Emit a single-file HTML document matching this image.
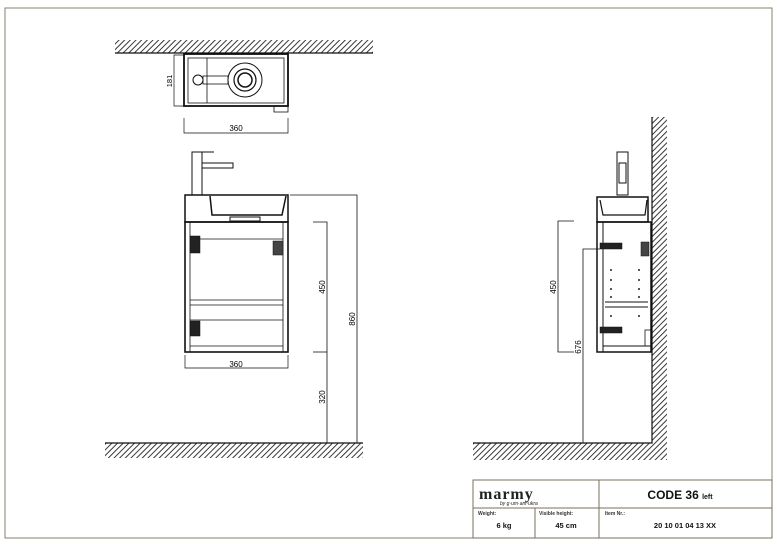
<!DOCTYPE html>
<html><head><style>
html,body{margin:0;padding:0;background:#fff;}
svg{display:block;font-family:"Liberation Sans",sans-serif;}
</style></head><body>
<svg width="777" height="544" viewBox="0 0 777 544" xmlns="http://www.w3.org/2000/svg">
<defs>
<pattern id="h" width="4" height="4" patternUnits="userSpaceOnUse" patternTransform="rotate(45)">
<rect width="4" height="4" fill="#fff"/><line x1="0" y1="0" x2="0" y2="4" stroke="#222" stroke-width="1.8"/>
</pattern>
</defs>
<rect x="5" y="8" width="767" height="530" fill="none" stroke="#8a8070" stroke-width="1"/>

<!-- TOP VIEW -->
<rect x="115" y="40" width="258" height="13" fill="url(#h)"/>
<line x1="115" y1="53" x2="373" y2="53" stroke="#111" stroke-width="1.2"/>
<g fill="none" stroke="#111">
<rect x="184" y="54" width="104" height="52" stroke-width="1.8"/>
<rect x="188" y="58" width="96" height="45" stroke-width="0.8"/>
<line x1="207" y1="58" x2="207" y2="103" stroke-width="0.8"/>
<circle cx="245" cy="80" r="17" stroke-width="1"/>
<circle cx="245" cy="80" r="11" stroke-width="1.2"/>
<circle cx="245" cy="80" r="7" stroke-width="1.5"/>
<circle cx="198" cy="80" r="5" stroke-width="1"/>
<rect x="203" y="76" width="25" height="8" stroke-width="0.8"/>
<rect x="274" y="106" width="14" height="6" stroke-width="0.8"/>
<polyline points="184,55 174,55 174,106 184,106" stroke-width="0.7"/>
<polyline points="184,118 184,133 288,133 288,118" stroke-width="0.7"/>
</g>
<text x="174" y="81" font-size="7.5" transform="rotate(-90 174 81)" text-anchor="middle" dy="-2">181</text>
<text x="236" y="131" font-size="8" text-anchor="middle">360</text>

<!-- FRONT VIEW -->
<g fill="none" stroke="#111">
<polyline points="192,195 192,152 214,152" stroke-width="1"/>
<rect x="192" y="152" width="10" height="43" stroke-width="1"/>
<polyline points="202,163 233,163 233,168 202,168" stroke-width="1"/>
<rect x="185" y="195" width="103" height="27" stroke-width="1.5"/>
<path d="M210,196 L212,215 L282,215 L286,196" stroke-width="1.5"/>
<rect x="230" y="217" width="30" height="4" stroke-width="1"/>
<rect x="185" y="222" width="103" height="130" stroke-width="1.6"/>
<line x1="190" y1="222" x2="190" y2="352" stroke-width="0.8"/>
<line x1="283" y1="222" x2="283" y2="352" stroke-width="0.8"/>
<line x1="190" y1="239" x2="283" y2="239" stroke-width="0.8"/>
<line x1="190" y1="300" x2="283" y2="300" stroke-width="0.8"/>
<line x1="190" y1="305" x2="283" y2="305" stroke-width="0.8"/>
<line x1="190" y1="320" x2="283" y2="320" stroke-width="0.8"/>
<line x1="190" y1="346" x2="283" y2="346" stroke-width="0.8"/>
<rect x="190" y="236" width="10" height="17" fill="#222" stroke-width="0.5"/>
<rect x="273" y="241" width="10" height="14" fill="#444" stroke-width="0.5"/>
<rect x="190" y="321" width="10" height="15" fill="#222" stroke-width="0.5"/>
<polyline points="185,355 185,368 288,368 288,355" stroke-width="0.7"/>
<polyline points="290,195 357,195 357,443" stroke-width="0.8"/>
<polyline points="313,222 327,222 327,443" stroke-width="0.8"/>
<line x1="313" y1="352" x2="327" y2="352" stroke-width="0.8"/>
</g>
<text x="236" y="367" font-size="8" text-anchor="middle">360</text>
<text x="325" y="287" font-size="8" transform="rotate(-90 325 287)" text-anchor="middle">450</text>
<text x="355" y="319" font-size="8" transform="rotate(-90 355 319)" text-anchor="middle">860</text>
<text x="325" y="397" font-size="8" transform="rotate(-90 325 397)" text-anchor="middle">320</text>
<rect x="105" y="443" width="258" height="15" fill="url(#h)"/>
<line x1="105" y1="443" x2="363" y2="443" stroke="#111" stroke-width="1.2"/>

<!-- SIDE VIEW -->
<rect x="652" y="117" width="15" height="343" fill="url(#h)"/>
<rect x="473" y="443" width="194" height="17" fill="url(#h)"/>
<polyline points="473,443 652,443 652,117" fill="none" stroke="#111" stroke-width="1.2"/>
<g fill="none" stroke="#111">
<rect x="617" y="152" width="11" height="43" stroke-width="1"/>
<rect x="619" y="163" width="7" height="20" stroke-width="1"/>
<rect x="597" y="197" width="51" height="25" stroke-width="1.5"/>
<path d="M600,200 L603,215 L645,215 L647,200" stroke-width="1.2"/>
<rect x="597" y="222" width="54" height="130" stroke-width="1.5"/>
<line x1="603" y1="222" x2="603" y2="352" stroke-width="1"/>
<line x1="603" y1="346" x2="651" y2="346" stroke-width="1"/>
<line x1="605" y1="302" x2="648" y2="302" stroke-width="1"/>
<line x1="605" y1="307" x2="648" y2="307" stroke-width="1"/>
<rect x="645" y="330" width="6" height="16" stroke-width="0.8"/>
<rect x="600" y="243" width="22" height="6" fill="#222" stroke-width="0.5"/>
<rect x="641" y="242" width="8" height="14" fill="#444" stroke-width="0.5"/>
<rect x="600" y="327" width="22" height="6" fill="#222" stroke-width="0.5"/>
<polyline points="574,221 558,221 558,352 574,352" stroke-width="0.8"/>
<polyline points="600,249 583,249 583,443" stroke-width="0.8"/>
</g>
<g fill="#222">
<circle cx="611" cy="270" r="1"/><circle cx="611" cy="280" r="1"/><circle cx="611" cy="289" r="1"/><circle cx="611" cy="297" r="1"/><circle cx="611" cy="316" r="1"/>
<circle cx="639" cy="270" r="1"/><circle cx="639" cy="280" r="1"/><circle cx="639" cy="289" r="1"/><circle cx="639" cy="297" r="1"/><circle cx="639" cy="316" r="1"/>
</g>
<text x="556" y="287" font-size="8" transform="rotate(-90 556 287)" text-anchor="middle">450</text>
<text x="581" y="347" font-size="8" transform="rotate(-90 581 347)" text-anchor="middle">676</text>

<!-- TITLE BLOCK -->
<g fill="none" stroke="#7a7060" stroke-width="1">
<rect x="473" y="480" width="299" height="58"/>
<line x1="599" y1="480" x2="599" y2="538"/>
<line x1="473" y1="508" x2="772" y2="508"/>
<line x1="535" y1="508" x2="535" y2="538"/>
</g>
<text x="479" y="499" font-family="Liberation Serif,serif" font-size="16" font-weight="bold" fill="#222" letter-spacing="1">marmy</text>
<text x="500" y="505" font-size="5" font-style="italic" fill="#222">by g·um·ani·ukra</text>
<text x="478" y="515" font-size="5" font-weight="bold" fill="#333">Weight:</text>
<text x="504" y="528" font-size="7.5" font-weight="bold" text-anchor="middle" fill="#111">6 kg</text>
<text x="539" y="515" font-size="5" font-weight="bold" fill="#333">Visible height:</text>
<text x="566" y="528" font-size="7.5" font-weight="bold" text-anchor="middle" fill="#111">45 cm</text>
<text x="605" y="515" font-size="5" font-weight="bold" fill="#333">Item Nr.:</text>
<text x="685" y="528" font-size="7.5" font-weight="bold" text-anchor="middle" fill="#111">20 10 01 04 13 XX</text>
<text x="680" y="499" font-size="12" font-weight="bold" text-anchor="middle" fill="#111">CODE 36 <tspan font-size="7">left</tspan></text>
</svg>
</body></html>
